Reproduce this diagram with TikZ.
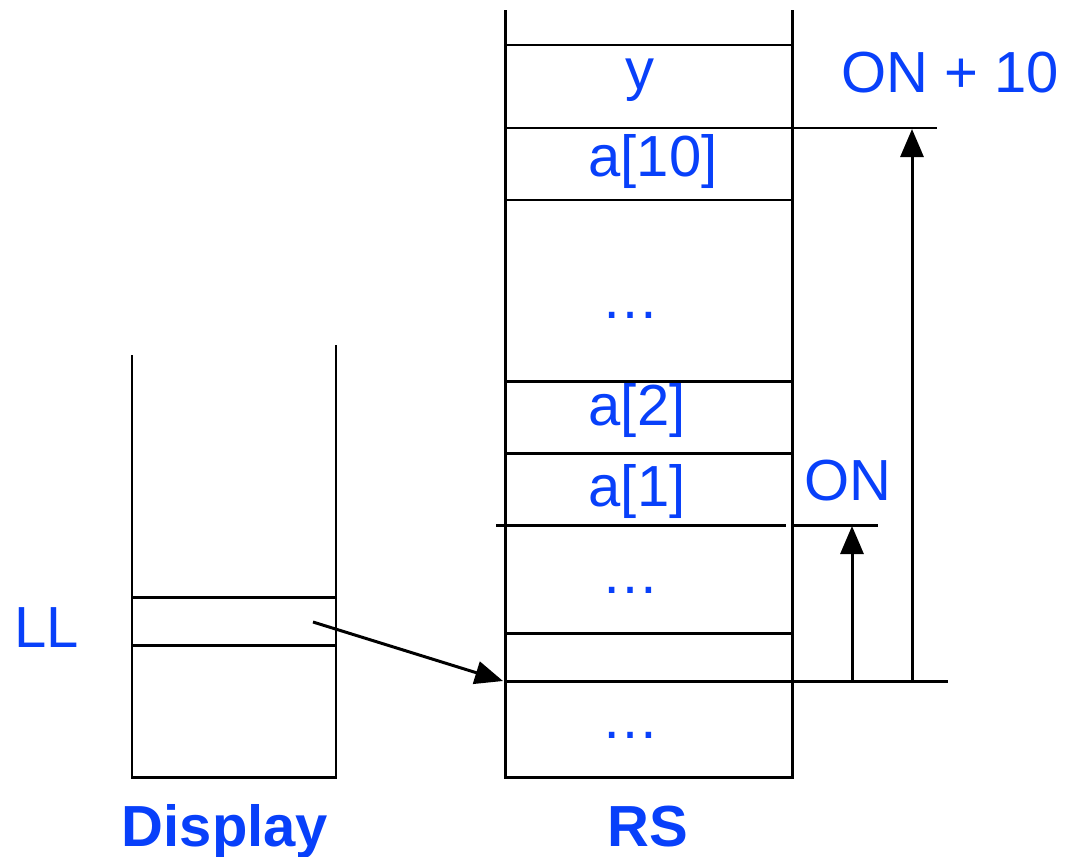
\documentclass[tikz,border=0pt]{standalone}
\usepackage{fontspec}
\setmainfont{Liberation Sans}
\usetikzlibrary{arrows.meta, positioning}
\definecolor{lblue}{RGB}{8,64,250}

\begin{document}
\begin{tikzpicture}[
  x=0.02cm, y=-0.02cm,
  line width=1.7pt,
  lbl/.style={text=lblue, font=\fontsize{33}{39}\selectfont, inner sep=0pt},
  ttl/.style={text=lblue, font=\fontsize{33}{39}\selectfont\bfseries, inner sep=0pt, anchor=base},
  arr/.style={-{Triangle[length=0.56cm, width=0.46cm]}}
]
\useasboundingbox (0,0) rectangle (1078,856);

% RS stack
\draw (505,10) -- (505,777) -- (792,777) -- (792,10);
\draw (505,45) -- (792,45);
\draw (505,128) -- (937,128);
\draw (505,200) -- (792,200);
\draw (505,381) -- (792,381);
\draw (505,453) -- (792,453);
\draw (496,525) -- (786,525);
\draw (792,525) -- (878,525);
\draw (505,633) -- (792,633);
\draw (505,681) -- (948,681);

\node[lbl] (y)   at (640,80)  {y};
\node[lbl] (a10) at (653,162) {a[10]};
\node[lbl] (d1)  at (630,315) {…};
\node[lbl] (a2)  at (637,411) {a[2]};
\node[lbl] (a1)  at (637,491) {a[1]};
\node[lbl] (d2)  at (630,590) {…};
\node[lbl] (d3)  at (630,735) {…};
\node[lbl] (on10) at (950,73) {ON + 10};
\node[lbl] (on)   at (848,481) {ON};
\node[ttl] (rs)   at (648,846) {RS};

% Display stack
\draw (132,355) -- (132,777) -- (336,777) -- (336,345);
\draw (132,597) -- (336,597);
\draw (132,645) -- (336,645);

\node[lbl] (ll)  at (47,628)  {LL};
\node[ttl] (disp) at (225,846) {Display};

% pointers
\coordinate (llp)  at (313,622);
\coordinate (base) at (503,681);
\coordinate (onb)  at (852,681);
\coordinate (ont)  at (852,526);
\coordinate (topb) at (912,681);
\coordinate (topt) at (912,129);
\draw[arr] (llp) -- (base);
\draw[arr] (onb) -- (ont);
\draw[arr] (topb) -- (topt);
\end{tikzpicture}
\end{document}
